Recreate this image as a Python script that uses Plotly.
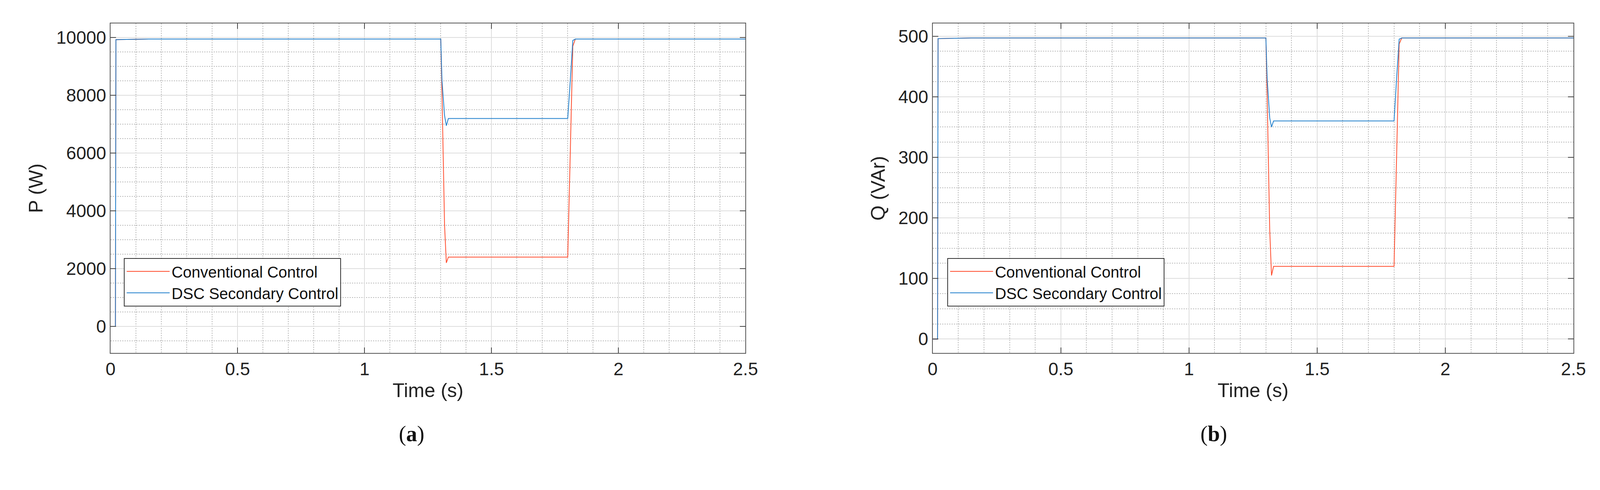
import plotly.graph_objects as go

# Time (s) breakpoints
t = [0, 0.019, 0.021, 0.15, 1.30, 1.305, 1.315, 1.322, 1.33, 1.35, 1.80, 1.81, 1.82, 1.83, 2.5]
# Active power P (W)
p_conv = [0, 0, 9930, 9950, 9950, 8000, 3500, 2200, 2400, 2400, 2400, 6000, 9700, 9950, 9950]
p_dsc  = [0, 0, 9930, 9950, 9950, 8500, 7300, 6950, 7200, 7200, 7200, 8500, 9900, 9950, 9950]
# Reactive power Q (VAr)
q_conv = [0, 0, 496, 497, 497, 400, 180, 105, 120, 120, 120, 300, 487, 497, 497]
q_dsc  = [0, 0, 496, 497, 497, 430, 365, 350, 360, 360, 360, 430, 495, 497, 497]

RED = "#ff4d2e"
BLUE = "#1f7fcc"
FONT = "Liberation Sans"

fig = go.Figure()
fig.add_trace(go.Scatter(x=t, y=p_conv, mode="lines", line=dict(color=RED, width=2),
                         name="Conventional Control", xaxis="x", yaxis="y", legend="legend"))
fig.add_trace(go.Scatter(x=t, y=p_dsc, mode="lines", line=dict(color=BLUE, width=2),
                         name="DSC Secondary Control", xaxis="x", yaxis="y", legend="legend"))
fig.add_trace(go.Scatter(x=t, y=q_conv, mode="lines", line=dict(color=RED, width=2),
                         name="Conventional Control", xaxis="x2", yaxis="y2", legend="legend2"))
fig.add_trace(go.Scatter(x=t, y=q_dsc, mode="lines", line=dict(color=BLUE, width=2),
                         name="DSC Secondary Control", xaxis="x2", yaxis="y2", legend="legend2"))

def xax(dom, anchor):
    return dict(domain=dom, anchor=anchor, range=[0, 2.5], dtick=0.5, tickformat="~g",
                showline=True, linecolor="#555", linewidth=2, mirror="allticks",
                ticks="inside", ticklen=14, tickcolor="#444", tickwidth=2,
                showgrid=True, gridcolor="#dddddd", gridwidth=2, zeroline=False,
                minor=dict(dtick=0.1, showgrid=True, gridcolor="#bbbbbb", griddash="dot", gridwidth=2),
                tickfont=dict(family=FONT, size=46, color="#222"),
                title=dict(text="Time (s)", font=dict(family=FONT, size=50, color="#222"), standoff=12))

def yax(dom, anchor, rng, dt, mdt, title):
    return dict(domain=dom, anchor=anchor, range=rng, dtick=dt, tickformat="d",
                showline=True, linecolor="#555", linewidth=2, mirror="allticks",
                ticks="inside", ticklen=14, tickcolor="#444", tickwidth=2,
                showgrid=True, gridcolor="#dddddd", gridwidth=2, zeroline=False,
                minor=dict(dtick=mdt, showgrid=True, gridcolor="#bbbbbb", griddash="dot", gridwidth=2),
                tickfont=dict(family=FONT, size=46, color="#222"),
                title=dict(text=title, font=dict(family=FONT, size=50, color="#222"), standoff=18))

leg = lambda x, y: dict(x=x, y=y, xanchor="left", yanchor="top", bgcolor="white",
                        bordercolor="#333", borderwidth=2, itemwidth=110,
                        font=dict(family=FONT, size=40, color="#111"), tracegroupgap=0)

fig.update_layout(
    width=4219, height=1255, paper_bgcolor="white", plot_bgcolor="white",
    margin=dict(l=0, r=0, t=0, b=0),
    xaxis=xax([0.0628, 0.4522], "y"),
    yaxis=yax([0.286, 0.9585], "x", [-920, 10490], 2000, 500, "P (W)"),
    xaxis2=xax([0.567, 0.960], "y2"),
    yaxis2=yax([0.286, 0.9585], "x2", [-23, 521], 100, 25, "Q (VAr)"),
    legend=leg(0.071, 0.48),
    legend2=leg(0.576, 0.48),
    annotations=[
        dict(text="(<b>a</b>)", x=0.239, y=0.094, xref="paper", yref="paper", showarrow=False,
             font=dict(family="Liberation Serif", size=56, color="#111")),
        dict(text="(<b>b</b>)", x=0.748, y=0.094, xref="paper", yref="paper", showarrow=False,
             font=dict(family="Liberation Serif", size=56, color="#111")),
    ],
)

fig.write_html("out.html")
